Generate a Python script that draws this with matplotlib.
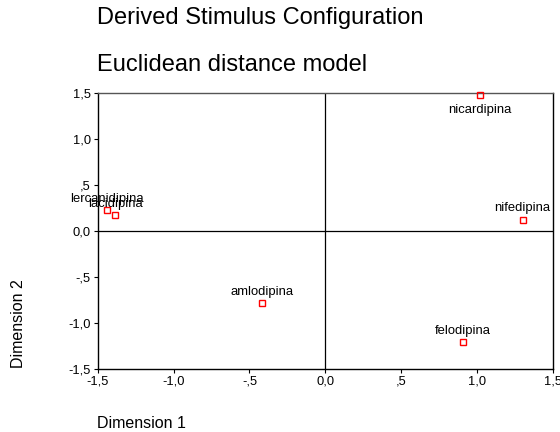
import matplotlib.pyplot as plt

plt.rcParams['font.family'] = ['Liberation Sans', 'DejaVu Sans']

names = ["lercanidipina", "lacidipina", "nicardipina", "nifedipina", "amlodipina", "felodipina"]
dim1 = [-1.436, -1.386, 1.02, 1.30, -0.418, 0.905]
dim2 = [0.225, 0.17, 1.475, 0.12, -0.786, -1.21]
ticks = [-1.5, -1.0, -0.5, 0.0, 0.5, 1.0, 1.5]
tick_labels = ["-1,5", "-1,0", "-,5", "0,0", ",5", "1,0", "1,5"]

fig = plt.figure(figsize=(5.6, 4.32), dpi=100)
ax = fig.add_axes([97.7/560, 1 - 369/432, 455.3/560, 276/432])

ax.axhline(0, color="black", lw=0.9)
ax.axvline(0, color="black", lw=0.9)
ax.plot(dim1, dim2, "s", mfc="none", mec="red", ms=4.2, mew=1, ls="none", clip_on=False, zorder=3)

for n, x, y in zip(names, dim1, dim2):
    if y > 1.4:
        ax.annotate(n, (x, y), xytext=(0, -6), textcoords="offset points",
                    ha="center", va="top", fontsize=9.4)
    else:
        ax.annotate(n, (x, y), xytext=(0, 4), textcoords="offset points",
                    ha="center", va="bottom", fontsize=9.4)

ax.set_xlim(-1.5, 1.5)
ax.set_ylim(-1.5, 1.5)
ax.set_xticks(ticks)
ax.set_xticklabels(tick_labels)
ax.set_yticks(ticks)
ax.set_yticklabels(tick_labels)
ax.tick_params(labelsize=9.3, length=3, width=0.8, direction="out", pad=2)
for s in ax.spines.values():
    s.set_linewidth(1.0)
ax.spines["top"].set_color("#555555")

fig.text(96.7/560, 1 - 18/432, "Derived Stimulus Configuration", fontsize=17, va="center")
fig.text(96.7/560, 1 - 65/432, "Euclidean distance model", fontsize=17, va="center")
fig.text(97/560, 1 - 423/432, "Dimension 1", fontsize=11.5, va="center")
fig.text(19/560, 1 - 324/432, "Dimension 2", fontsize=11.5, va="center", ha="center", rotation=90)

fig.savefig("out.png", dpi=100)
